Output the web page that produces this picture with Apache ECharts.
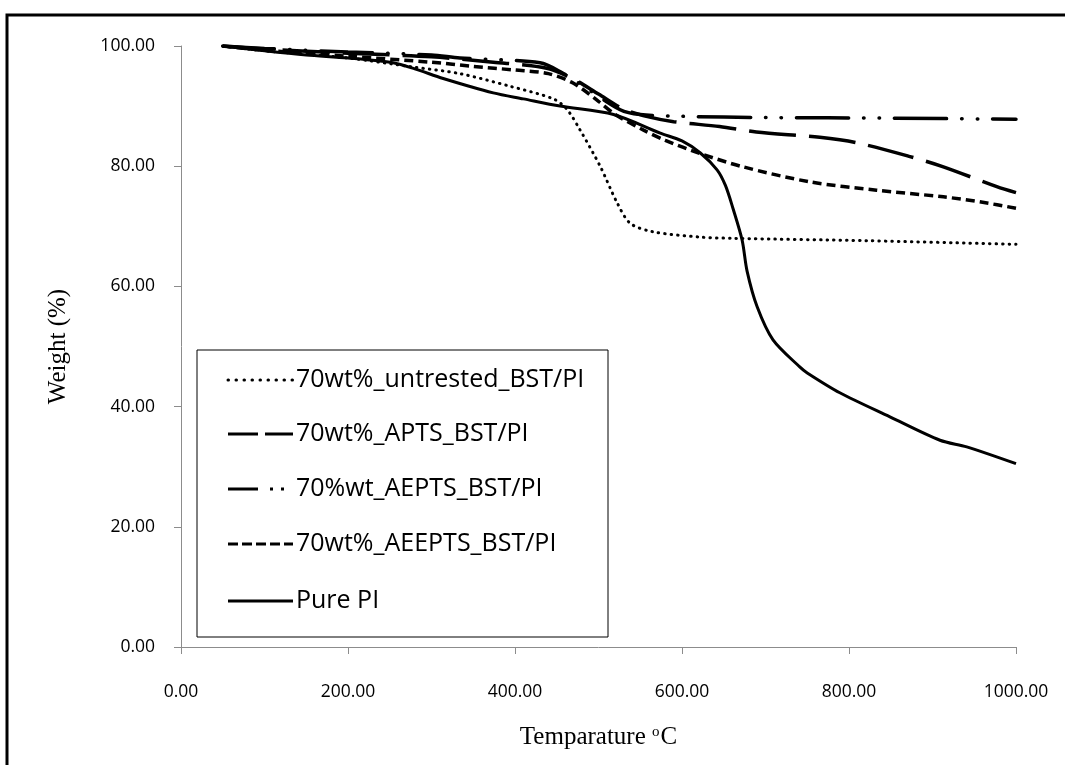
<!DOCTYPE html>
<html>
<head>
<meta charset="utf-8">
<style>
  html, body { margin: 0; padding: 0; background: #fff; }
  #chart { width: 1065px; height: 765px; }
</style>
<script src="https://cdn.jsdelivr.net/npm/echarts@6/dist/echarts.min.js"></script>
</head>
<body>
<div id="chart"></div>
<script>
// TGA curves: temperature (°C) vs remaining weight (%)
const untreatedT = [50, 100, 200, 278, 334, 394, 446, 462, 478, 502, 522, 538, 565, 622, 661, 822, 1000];
const untreatedW = [100, 99.2, 98.0, 96.5, 95.4, 93.3, 91.2, 89.5, 86.0, 80.0, 74.0, 70.5, 69.1, 68.2, 68.0, 67.6, 67.0];

const aptsT = [50, 100, 200, 300, 374, 438, 470, 500, 530, 560, 590, 645, 689, 765, 809, 873, 913, 977, 1000];
const aptsW = [100, 99.5, 98.8, 98.2, 97.3, 96.3, 94.5, 92.0, 89.5, 88.2, 87.4, 86.6, 85.7, 84.8, 83.9, 81.6, 79.9, 76.6, 75.6];

const aeptsT = [50, 100, 200, 300, 334, 430, 457, 480, 526, 550, 600, 700, 850, 1000];
const aeptsW = [100, 99.6, 99.0, 98.5, 98.0, 97.2, 95.5, 93.5, 89.4, 88.6, 88.3, 88.1, 88.0, 87.8];

const aeeptsT = [50, 100, 200, 300, 350, 400, 440, 470, 500, 520, 554, 580, 622, 673, 753, 833, 913, 960, 1000];
const aeeptsW = [100, 99.3, 98.3, 97.3, 96.6, 96.0, 95.4, 93.8, 90.8, 88.6, 86.0, 84.3, 82.1, 79.9, 77.4, 76.0, 74.9, 74.0, 73.0];

const pureT = [50, 100, 150, 200, 254, 280, 314, 374, 410, 454, 518, 574, 600, 622, 642, 652, 661, 672, 678, 690, 709, 741, 750, 789, 849, 909, 941, 1000];
const pureW = [100, 99.2, 98.5, 98.0, 97.2, 96.2, 94.6, 92.2, 91.2, 90.0, 88.6, 85.5, 84.2, 82.2, 79.4, 76.8, 73.0, 67.7, 62.5, 56.6, 51.1, 46.6, 45.6, 42.3, 38.3, 34.4, 33.3, 30.5];

const seriesNames = ['70wt%_untrested_BST/PI', '70wt%_APTS_BST/PI', '70%wt_AEPTS_BST/PI', '70wt%_AEEPTS_BST/PI', 'Pure PI'];
const xTicks = [0, 200, 400, 600, 800, 1000];
const yTicks = [0, 20, 40, 60, 80, 100];

const zip = (xs, ys) => xs.map((x, i) => [x, ys[i]]);

const labelFont = '"Open Sans", Lato, sans-serif';
const titleFont = '"Liberation Serif", "DejaVu Serif", serif';

// stroke styles per curve (plot) and for the legend swatches
const plotStyles = [
  { width: 3, type: [0.5, 6], cap: 'round' },
  { width: 3.5, type: [47, 13], cap: 'butt' },
  { width: 3.5, type: [52, 15, 0.5, 15, 0.5, 15], cap: 'round' },
  { width: 3.5, type: [9, 5], cap: 'butt' },
  { width: 3, type: 'solid', cap: 'butt' }
];
const keyStyles = [
  { lineWidth: 3, lineDash: [0.5, 7.5], lineCap: 'round' },
  { lineWidth: 3, lineDash: [30, 7], lineCap: 'butt' },
  { lineWidth: 3, lineDash: [30, 12, 3, 8, 3, 20], lineCap: 'butt' },
  { lineWidth: 3, lineDash: [10, 4], lineCap: 'butt' },
  { lineWidth: 3, lineDash: null, lineCap: 'butt' }
];

function curve(name, xs, ys, ls) {
  return {
    name: name,
    type: 'line',
    data: zip(xs, ys),
    symbol: 'none',
    smooth: 0.3,
    lineStyle: { color: '#000', width: ls.width, type: ls.type, cap: ls.cap },
    itemStyle: { color: '#000' },
    z: 2
  };
}

// key box drawn as graphic elements
const keyBox = { x: 197, y: 350, w: 411, h: 287 };
const keyRows = [380, 434, 489, 544, 601];
const keyElements = [{
  type: 'rect',
  shape: { x: keyBox.x, y: keyBox.y, width: keyBox.w, height: keyBox.h },
  style: { fill: '#fff', stroke: '#000', lineWidth: 1 },
  z: 10
}];
seriesNames.forEach((name, i) => {
  const k = keyStyles[i];
  keyElements.push({
    type: 'line',
    shape: { x1: 228, y1: keyRows[i], x2: 293, y2: keyRows[i] },
    style: { stroke: '#000', lineWidth: k.lineWidth, lineDash: k.lineDash, lineCap: k.lineCap },
    z: 11
  });
  keyElements.push({
    type: 'text',
    x: 296,
    y: keyRows[i],
    style: {
      text: name,
      fill: '#000',
      font: '25px "Open Sans", sans-serif',
      verticalAlign: 'middle',
      align: 'left'
    },
    z: 11
  });
});

const chart = echarts.init(document.getElementById('chart'), null, { renderer: 'canvas' });

chart.setOption({
  backgroundColor: '#fff',
  animation: false,
  grid: { left: 181, top: 46, right: 49, bottom: 118, containLabel: false },
  xAxis: {
    type: 'value',
    min: xTicks[0],
    max: xTicks[xTicks.length - 1],
    interval: 200,
    axisLine: { show: true, lineStyle: { color: '#8c8c8c', width: 1 } },
    axisTick: { show: true, inside: false, length: 7, lineStyle: { color: '#8c8c8c' } },
    splitLine: { show: false },
    axisLabel: {
      margin: 36,
      color: '#000',
      fontFamily: labelFont,
      fontSize: 17.5,
      formatter: v => v.toFixed(2)
    },
    name: 'Temparature {sup|o}C',
    nameLocation: 'middle',
    nameGap: 78,
    nameTextStyle: {
      color: '#000',
      fontFamily: titleFont,
      fontSize: 25,
      rich: {
        sup: { fontFamily: titleFont, fontSize: 15, verticalAlign: 'top', padding: [0, 1, 10, 0], color: '#000' }
      }
    }
  },
  yAxis: {
    type: 'value',
    min: yTicks[0],
    max: yTicks[yTicks.length - 1],
    interval: 20,
    axisLine: { show: true, lineStyle: { color: '#8c8c8c', width: 1 } },
    axisTick: { show: true, inside: false, length: 7, lineStyle: { color: '#8c8c8c' } },
    splitLine: { show: false },
    axisLabel: {
      margin: 26,
      color: '#000',
      fontFamily: labelFont,
      fontSize: 17.5,
      formatter: v => v.toFixed(2)
    },
    name: 'Weight (%)',
    nameLocation: 'middle',
    nameGap: 110,
    nameRotate: 90,
    nameTextStyle: { color: '#000', fontFamily: titleFont, fontSize: 25 }
  },
  graphic: [{
    type: 'rect',
    silent: true,
    z: 100,
    shape: { x: 7, y: 15, width: 1100, height: 800 },
    style: { fill: 'none', stroke: '#000', lineWidth: 3 }
  }].concat(keyElements),
  series: seriesNames.map((name, i) => {
    const xs = [untreatedT, aptsT, aeptsT, aeeptsT, pureT][i];
    const ys = [untreatedW, aptsW, aeptsW, aeeptsW, pureW][i];
    return curve(name, xs, ys, plotStyles[i]);
  })
});
</script>
</body>
</html>
